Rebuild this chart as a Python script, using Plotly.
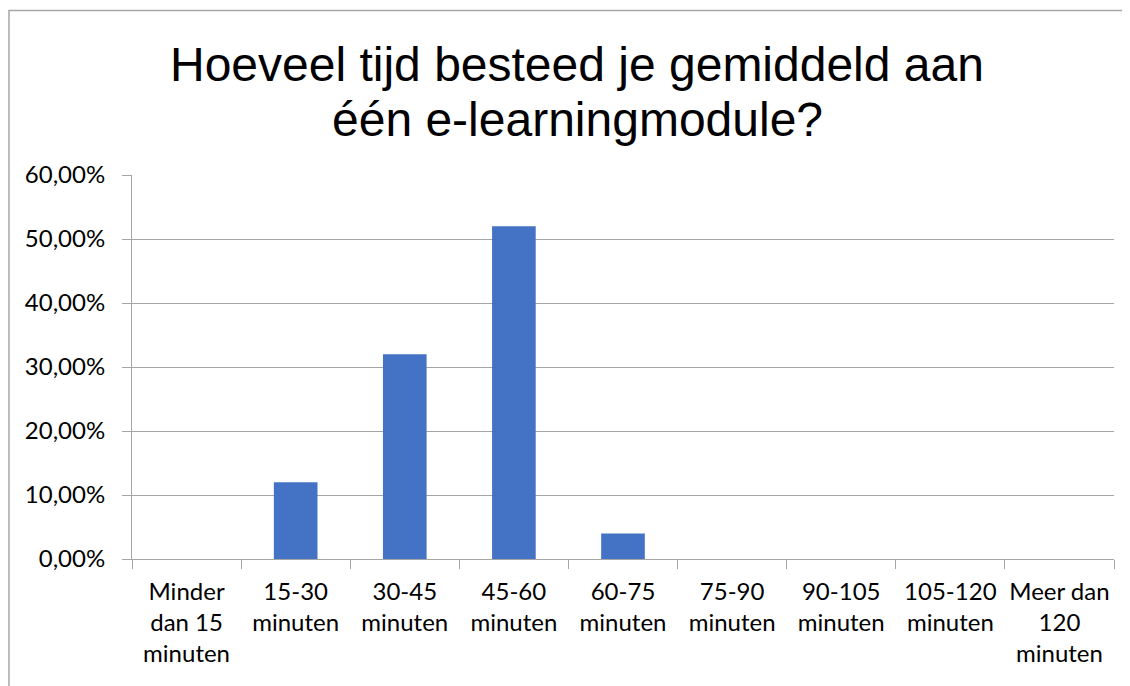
import plotly.graph_objects as go

categories = ["Minder<br>dan 15<br>minuten", "15-30<br>minuten", "30-45<br>minuten", "45-60<br>minuten",
              "60-75<br>minuten", "75-90<br>minuten", "90-105<br>minuten", "105-120<br>minuten",
              "Meer dan<br>120<br>minuten"]
values = [0.0, 0.12, 0.32, 0.52, 0.04, 0.0, 0.0, 0.0, 0.0]
tick_vals = [0, 0.1, 0.2, 0.3, 0.4, 0.5, 0.6]
tick_text = ["0,00%", "10,00%", "20,00%", "30,00%", "40,00%", "50,00%", "60,00%"]
title_lines = ["Hoeveel tijd besteed je gemiddeld aan", "één e-learningmodule?"]

OFF = 8  # browser body margin
W, H = 1130 - OFF, 686 - OFF
L, R, T, B = 132 - OFF, 1114 - OFF, 175 - OFF, 559 - OFF
pw, ph = R - L, B - T

fig = go.Figure(go.Bar(x=categories, y=values, marker=dict(color="#4472C4", line=dict(width=0))))

grid = "#A6A6A6"
fig.update_layout(
    width=W, height=H,
    margin=dict(l=L, r=W - R, t=T, b=H - B, autoexpand=False),
    paper_bgcolor="white", plot_bgcolor="white",
    bargap=0.6, showlegend=False,
    font=dict(family="Lato, Calibri, sans-serif", color="#000000", size=24),
)
fig.update_xaxes(showline=True, linecolor=grid, linewidth=1, ticks="outside", tickson="boundaries",
                 ticklen=9, tickcolor=grid, showgrid=False, fixedrange=True, ticklabelstandoff=11,
                 tickangle=0, tickfont=dict(size=24))
fig.update_yaxes(range=[0, 0.6], tickvals=tick_vals, ticktext=tick_text, showgrid=True, gridcolor=grid,
                 gridwidth=1, showline=True, linecolor=grid, ticks="outside", ticklen=9, tickcolor=grid,
                 zeroline=False, fixedrange=True, ticklabelstandoff=12)

# title as two lines (tighter line spacing than plotly's default)
cx = 577 - OFF
for line, cy in zip(title_lines, [64.5 - OFF, 119.5 - OFF]):
    fig.add_annotation(text=line, xref="paper", yref="paper",
                       x=(cx - L) / pw, y=(B - cy) / ph, xanchor="center", yanchor="middle",
                       showarrow=False,
                       font=dict(family="Liberation Sans, Arial, sans-serif", size=48, color="#000000"))

fig.add_shape(type="rect", xref="paper", yref="paper",
              x0=(9 - OFF - L) / pw, x1=(1150 - L) / pw, y0=(B - 700) / ph, y1=(B - (10.5 - OFF)) / ph,
              line=dict(color="#A6A6A6", width=1.5), fillcolor="rgba(0,0,0,0)", layer="below")

fig.write_html("out.html")
